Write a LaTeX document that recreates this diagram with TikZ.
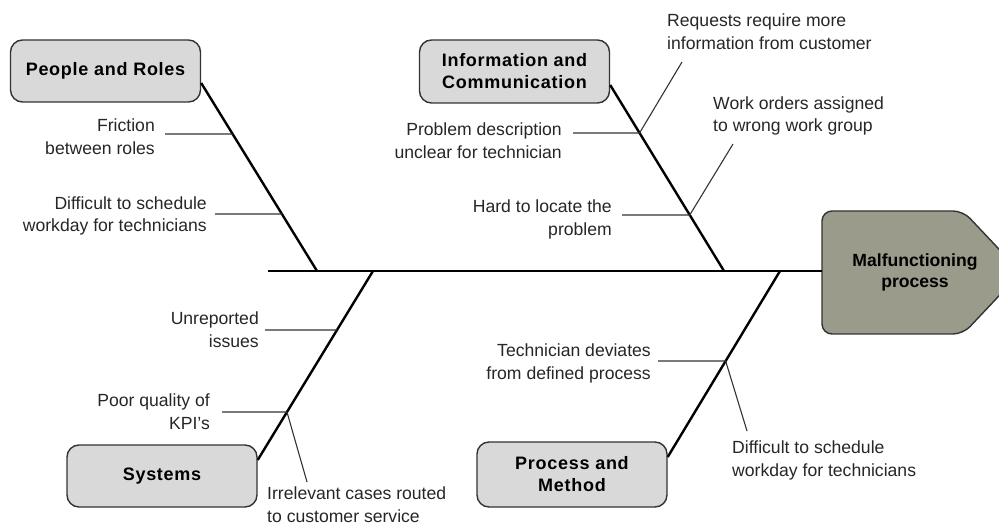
\documentclass[tikz,border=0pt]{standalone}
\usepackage{fontspec}
\setmainfont{Liberation Sans}
\newfontfamily\catfont[LetterSpace=4]{Liberation Sans}
\usetikzlibrary{calc}
\definecolor{boxfill}{HTML}{D9D9D9}
\definecolor{headfill}{HTML}{9B9B8B}
\definecolor{edge}{HTML}{333333}
\begin{document}
\begin{tikzpicture}[x=1pt,y=-1pt,
  cat/.style={draw=edge, line width=1.4pt, fill=boxfill, rounded corners=12pt,
    minimum width=190pt, minimum height=62pt, align=center, inner sep=0pt,
    font=\catfont\fontsize{18}{22}\selectfont\bfseries},
  cause/.style={font=\fontsize{17.6}{22.8}\selectfont, text=black!85, inner sep=0pt},
  lcause/.style={cause, align=right, anchor=east},
  rcause/.style={cause, align=left, anchor=west},
  bone/.style={line width=2.4pt, black},
  twig/.style={line width=1.1pt, black!80},
]
\useasboundingbox (0,0) rectangle (999,529);

% effect (fish head), cut by the page edge
\begin{scope}
  \clip (0,0) rectangle (999,529);
  \draw[edge, line width=1.4pt, fill=headfill, rounded corners=10pt]
    (822,211) -- (963,211) -- (1021,272.5) -- (963,334) -- (822,334) -- cycle;
\end{scope}
\node[font=\fontsize{17.6}{21}\selectfont\bfseries, align=center] (head) at (915,272)
  {Malfunctioning\\process};
\coordinate (headL) at (822,271);
\coordinate (tail) at (268,271);

% spine
\draw[bone] (tail) -- (headL);

% category boxes
\node[cat] (pr) at (105.5,71) {People and Roles};
\node[cat, minimum height=63pt] (ic) at (514.5,71.5) {Information and\\Communication};
\node[cat] (sy) at (162,476) {Systems};
\node[cat, minimum height=65pt] (pm) at (572,474.5) {Process and\\Method};

% main bones
\coordinate (pr0) at ([yshift=-12pt]pr.east);
\coordinate (ic0) at ([yshift=-13.5pt]ic.east);
\coordinate (sy0) at ([yshift=16pt]sy.east);
\coordinate (pm0) at ([yshift=17.5pt]pm.east);
\coordinate (jP) at (317,271);
\coordinate (jI) at (724,271);
\coordinate (jS) at (373,271);
\coordinate (jM) at (780,271);
\draw[bone] (pr0) -- (jP);
\draw[bone] (ic0) -- (jI);
\draw[bone] (sy0) -- (jS);
\draw[bone] (pm0) -- (jM);

% junctions on the bones
\coordinate (p1) at ($(pr0)!0.2713!(jP)$);
\coordinate (p2) at ($(pr0)!0.6968!(jP)$);
\coordinate (i1) at ($(ic0)!0.258!(jI)$);
\coordinate (i2) at ($(ic0)!0.699!(jI)$);
\coordinate (s1) at ($(sy0)!0.688!(jS)$);
\coordinate (s2) at ($(sy0)!0.254!(jS)$);
\coordinate (m1) at ($(pm0)!0.516!(jM)$);

% free ends of the cause lines
\coordinate (p1e) at (165,134);
\coordinate (p2e) at (215,214);
\coordinate (i1e) at (573,133);
\coordinate (i2e) at (622,215);
\coordinate (i1d) at (682,62);
\coordinate (i2d) at (733,144);
\coordinate (s1e) at (265,330);
\coordinate (s2e) at (222,412);
\coordinate (s2d) at (307,482);
\coordinate (m1e) at (658,361);
\coordinate (m1d) at (747,431);

\draw[twig] (p1e) -- (p1);
\draw[twig] (p2e) -- (p2);
\draw[twig] (i1e) -- (i1);
\draw[twig] (i2e) -- (i2);
\draw[twig] (i1) -- (i1d);
\draw[twig] (i2) -- (i2d);
\draw[twig] (s1e) -- (s1);
\draw[twig] (s2e) -- (s2);
\draw[twig] (s2) -- (s2d);
\draw[twig] (m1e) -- (m1);
\draw[twig] (m1) -- (m1d);

% cause labels
\node[lcause] (tp1) at (155,137) {Friction\\between roles};
\node[lcause] (tp2) at (207,216) {Difficult to schedule\\workday for technicians};
\node[lcause] (ti1) at (562,140.5) {Problem description\\unclear for technician};
\node[lcause] (ti2) at (612,219.5) {Hard to locate the\\problem};
\node[rcause] (ti3) at (667,32) {Requests require more\\information from customer};
\node[rcause] (ti4) at (713,116) {Work orders assigned\\to wrong work group};
\node[lcause] (ts1) at (259,329.5) {Unreported\\issues};
\node[lcause] (ts2) at (210,411.5) {Poor quality of\\KPI’s};
\node[rcause] (ts3) at (267,505) {Irrelevant cases routed\\to customer service};
\node[lcause] (tm1) at (651,363.5) {Technician deviates\\from defined process};
\node[rcause] (tm2) at (732,460.5) {Difficult to schedule\\workday for technicians};
\end{tikzpicture}
\end{document}
